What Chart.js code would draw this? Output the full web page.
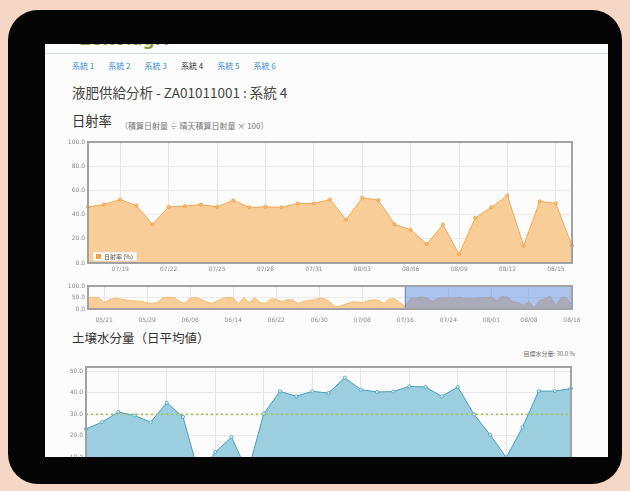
<!DOCTYPE html>
<html>
<head>
<meta charset="utf-8">
<script src="https://cdn.jsdelivr.net/npm/chart.js@4.4.0/dist/chart.umd.min.js"></script>
<style>
html, body { margin: 0; padding: 0; }
body { width: 630px; height: 491px; background: #f6d7c5; position: relative; overflow: hidden;
       font-family: "Noto Sans CJK JP", "Noto Sans", sans-serif; }
#tablet { position: absolute; left: 8px; top: 10px; width: 614px; height: 474px; background: #050505; border-radius: 30px; }
#screen { position: absolute; left: 45px; top: 44px; width: 563px; height: 413px; background: #fcfcfc; overflow: hidden; filter: blur(0.5px); }
.abs { position: absolute; white-space: nowrap; }
#logo { left: 35px; top: -18px; font: bold 18px "Noto Sans", sans-serif; color: #86a23c; letter-spacing: 0.5px; }
#navline { left: 0; top: 9px; width: 100%; height: 1px; background: #cfdde8; }
#tabs { left: 27px; top: 16px; font-size: 8px; line-height: 12px; }
#tabs span { display: inline-block; width: 36.3px; color: #3d8bd3; }
#tabs span.on { color: #333; }
#title { left: 27px; top: 38px; font-size: 13.5px; line-height: 20px; color: #444; }
#h1 { left: 27px; top: 68px; font-size: 13.3px; line-height: 18px; color: #333; }
#sub { left: 75px; top: 76px; font-size: 8px; line-height: 12px; color: #777; }
#h2 { left: 27px; top: 285px; font-size: 12.5px; line-height: 18px; color: #333; }
#target { right: 33px; top: 306px; font-size: 6px; line-height: 8px; color: #666; }
canvas { position: absolute; left: 0; }
</style>
</head>
<body>
<div id="tablet"></div>
<div id="screen">
  <div class="abs" id="logo">ZeRo.agri</div>
  <div class="abs" id="navline"></div>
  <div class="abs" id="tabs"><span>系統 1</span><span>系統 2</span><span>系統 3</span><span class="on">系統 4</span><span>系統 5</span><span>系統 6</span></div>
  <div class="abs" id="title">液肥供給分析 - ZA01011001 : 系統 4</div>
  <div class="abs" id="h1">日射率</div>
  <div class="abs" id="sub">（積算日射量 ÷ 晴天積算日射量 × 100）</div>
  <canvas id="solar" width="545" height="142" style="top:90px"></canvas>
  <canvas id="nav" width="545" height="50" style="top:234px"></canvas>
  <div class="abs" id="h2">土壌水分量（日平均値）</div>
  <div class="abs" id="target">目標水分量: 30.0 %</div>
  <canvas id="soil" width="545" height="140" style="top:314px"></canvas>
</div>

<script>
// ---- data ----
const mainStart = [7, 17];   // 07/17
const mainCount = 31;
const navStart = [5, 18];    // 05/18

const mainTicks = ['07/19', '07/22', '07/25', '07/28', '07/31', '08/03', '08/06', '08/09', '08/12', '08/15'];
const navTicks = ['05/21', '05/29', '06/06', '06/14', '06/22', '06/30', '07/08', '07/16', '07/24', '08/01', '08/08', '08/16'];

// 日射率 (%) 07/17 - 08/16
const solarValues = [46.4, 48.3, 52.5, 47.5, 32.0, 46.4, 47.0, 48.3, 46.4, 51.7, 46.0, 46.4, 46.0, 49.2, 49.2, 52.5,
                     35.8, 53.9, 52.0, 32.0, 27.5, 15.6, 31.7, 7.2, 37.2, 46.0, 55.8, 14.2, 51.0, 49.2, 14.2];
// 日射率 (%) 05/18 - 07/16 (navigator only)
const solarEarlier = [51, 51, 50, 28, 40, 47, 44, 40, 36, 35, 33, 27, 24, 30, 50, 51, 50, 35, 24, 48,
                      51, 42, 32, 24, 36, 46, 51, 49, 24, 50, 28, 50, 28, 24, 44, 43, 32, 40, 40, 24,
                      33, 38, 40, 47, 45, 30, 10, 14, 22, 30, 31, 27, 36, 40, 38, 24, 44, 45, 28, 12];
// 土壌水分量 (%) 07/17 - 08/16
const soilValues = [23.3, 26.4, 31.1, 29.5, 26.4, 35.4, 28.8, 2.0, 12.5, 19.4, 3.0, 30.4, 40.7, 38.4, 40.7, 39.9,
                    47.0, 41.5, 40.4, 40.6, 43.0, 42.7, 38.4, 42.7, 30.0, 20.5, 10.0, 24.0, 40.8, 40.8, 42.0];
const targetMoisture = 30.0;
const selectionStart = '07/16';
const selectionEnd = '08/16';

function makeDates(md, count) {
  const out = [];
  const d = new Date(2018, md[0] - 1, md[1]);
  for (let i = 0; i < count; i++) {
    out.push(String(d.getMonth() + 1).padStart(2, '0') + '/' + String(d.getDate()).padStart(2, '0'));
    d.setDate(d.getDate() + 1);
  }
  return out;
}
const mainDates = makeDates(mainStart, mainCount);
const navDates = makeDates(navStart, solarEarlier.length + solarValues.length);

// ---- plugins ----
const frame = {
  id: 'frame',
  afterDraw(chart) {
    const { ctx, chartArea: a } = chart;
    ctx.save();
    ctx.strokeStyle = '#a2a2a2';
    ctx.lineWidth = 2;
    ctx.strokeRect(a.left, a.top, a.right - a.left, a.bottom - a.top);
    ctx.restore();
  }
};

const boxLegend = {
  id: 'boxLegend',
  afterDatasetsDraw(chart) {
    const { ctx, chartArea: a } = chart;
    const ds = chart.data.datasets[0];
    ctx.save();
    ctx.font = '6px "Noto Sans CJK JP"';
    const w = ctx.measureText(ds.label).width + 15;
    const x = a.left + 5, y = a.bottom - 11;
    ctx.fillStyle = 'rgba(255,255,255,0.85)';
    ctx.fillRect(x, y, w, 9);
    ctx.strokeStyle = '#d4d4d4';
    ctx.lineWidth = 0.6;
    ctx.strokeRect(x, y, w, 9);
    ctx.fillStyle = '#efa24c';
    ctx.fillRect(x + 3, y + 2, 5, 5);
    ctx.fillStyle = '#555';
    ctx.textBaseline = 'middle';
    ctx.fillText(ds.label, x + 11, y + 4.8);
    ctx.restore();
  }
};

const selection = {
  id: 'selection',
  afterDatasetsDraw(chart) {
    const { ctx, chartArea: a, scales } = chart;
    const x0 = scales.x.getPixelForValue(navDates.indexOf(selectionStart));
    const x1 = scales.x.getPixelForValue(navDates.indexOf(selectionEnd));
    ctx.save();
    ctx.fillStyle = 'rgba(92,138,222,0.5)';
    ctx.fillRect(x0, a.top, x1 - x0, a.bottom - a.top);
    ctx.strokeStyle = '#6d86ad';
    ctx.lineWidth = 1;
    ctx.strokeRect(x0, a.top, x1 - x0, a.bottom - a.top);
    ctx.restore();
  }
};

Chart.defaults.font.family = '"DejaVu Sans", sans-serif';
Chart.defaults.font.size = 6;
Chart.defaults.color = '#8a8a8a';

function xAxis(ticksList, pad, h) {
  return {
    ticks: {
      autoSkip: false, maxRotation: 0, padding: pad,
      callback(v) { const l = this.getLabelForValue(v); return ticksList.includes(l) ? l : null; }
    },
    grid: { color: '#e6e6e6', drawTicks: false },
    border: { display: false },
    afterFit(s) { s.height = h; }
  };
}

// ---- 日射率 ----
new Chart(document.getElementById('solar'), {
  type: 'line',
  data: {
    labels: mainDates,
    datasets: [{
      label: '日射率 (%)',
      data: solarValues,
      borderColor: '#f0a954',
      backgroundColor: '#f9cd97',
      borderWidth: 1,
      fill: 'origin',
      tension: 0,
      pointRadius: 1.6,
      pointBackgroundColor: '#f6bd76',
      pointBorderColor: '#eea04a',
      pointBorderWidth: 0.8
    }]
  },
  options: {
    responsive: false, animation: false,
    layout: { padding: { top: 8, right: 18, bottom: 3, left: 0 } },
    plugins: { legend: { display: false }, tooltip: { enabled: false } },
    scales: {
      x: xAxis(mainTicks, 3, 10),
      y: {
        min: 0, max: 100,
        ticks: { stepSize: 20, padding: 3, callback: v => v.toFixed(1) },
        grid: { color: '#e8e8e8', drawTicks: false },
        border: { display: false },
        afterFit(s) { s.width = 43; }
      }
    }
  },
  plugins: [frame, boxLegend]
});

// ---- navigator ----
new Chart(document.getElementById('nav'), {
  type: 'line',
  data: {
    labels: navDates,
    datasets: [{
      data: solarEarlier.concat(solarValues),
      borderColor: '#f0b466',
      backgroundColor: '#f9cd97',
      borderWidth: 0.8,
      fill: 'origin',
      pointRadius: 0
    }]
  },
  options: {
    responsive: false, animation: false,
    layout: { padding: { top: 8, right: 18, bottom: 3, left: 0 } },
    plugins: { legend: { display: false }, tooltip: { enabled: false } },
    scales: {
      x: xAxis(navTicks, 8, 16),
      y: {
        min: 0, max: 100,
        ticks: { stepSize: 50, padding: 3, callback: v => v.toFixed(1) },
        grid: { color: '#ececec', drawTicks: false },
        border: { display: false },
        afterFit(s) { s.width = 43; }
      }
    }
  },
  plugins: [selection, frame]
});

// ---- 土壌水分量 ----
new Chart(document.getElementById('soil'), {
  type: 'line',
  data: {
    labels: mainDates,
    datasets: [{
      label: '目標水分量',
      data: mainDates.map(() => targetMoisture),
      borderColor: '#a2c25c',
      borderWidth: 1.6,
      borderDash: [2, 3],
      fill: false,
      pointRadius: 0
    }, {
      label: '土壌水分量',
      data: soilValues,
      borderColor: '#4a9cbc',
      backgroundColor: '#9bcede',
      borderWidth: 1,
      fill: 'origin',
      tension: 0,
      pointRadius: 1.6,
      pointBackgroundColor: '#d4edf4',
      pointBorderColor: '#4a9cbc',
      pointBorderWidth: 0.8
    }]
  },
  options: {
    responsive: false, animation: false,
    layout: { padding: { top: 9, right: 19, bottom: 5, left: 0 } },
    plugins: { legend: { display: false }, tooltip: { enabled: false } },
    scales: {
      x: xAxis(mainTicks, 3, 14),
      y: {
        min: 0, max: 52,
        ticks: { stepSize: 10, includeBounds: false, padding: 3, callback: v => (v % 10 === 0 ? v.toFixed(1) : null) },
        grid: { color: '#e8e8e8', drawTicks: false },
        border: { display: false },
        afterFit(s) { s.width = 41; }
      }
    }
  },
  plugins: [frame]
});
</script>
</body>
</html>
